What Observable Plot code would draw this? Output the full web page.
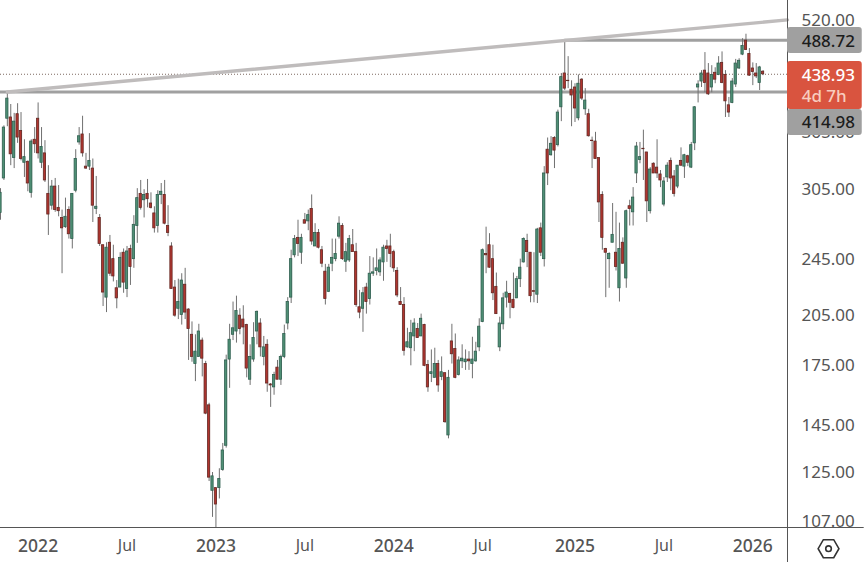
<!DOCTYPE html>
<html><head><meta charset="utf-8">
<script src="https://cdn.jsdelivr.net/npm/d3@7"></script>
<script src="https://cdn.jsdelivr.net/npm/@observablehq/plot@0.6"></script>
<style>html,body{margin:0;padding:0;background:#fff}svg{display:block}</style>
</head><body><div id="chart"></div>
<script>
const firstWeek = "2021-10-18";
const opens = [283.5,316,381.5,383,337,387,367,332,333,302,357,381.5,332,342,301,290,308,288,279,271,286,261,304,354,363,328,328,326,287,279,256,217,258,245,223.5,224,250,223,253,245,272,301,295,301,292,283,272,300,300,272,255,224,209.5,205.5,226,209,193,176,180,189.5,176,154.5,118,119,119,126,136,178.5,193,195,205,202.5,199,167.5,178.5,195,200,180,187,165,163.5,174,167.5,180,200,217,248,262,250,277,276,287,255,266,252,235.5,221,241.5,245,263,272,243,244,256,250.5,210.5,209.5,224,216,234,236,235,242.5,255,255,250.5,236,214,212,185.5,185,192,196.5,192,199,175.5,170.5,168.5,176,169,171,140.5,189,184.5,170,177.5,177,178.5,176,177.5,185.5,201,249,256,245,224.5,185.5,199.5,217,219.5,215.5,216.5,230,242.5,259.5,250,221.5,219,270,245,346,340,359,351,395.5,440,430,418,421,382,431.5,393,387,356,355,337,300,253,245,258,250,223.5,258,230.5,289.5,284,321,335,347,343,285,331,327,320,291,317,334,318,308,334,328,339,327,353,421,429,444,440,421,441,438,455,438,398,401,425,447,467,488,468,447,440,427,442.5];
const highs = [306,373,415,399,388,400,389,357,334,357,371,401,371,356,329,314,316,309,286,297,289,301,346,371,384.5,342,364,336,318,282,256,258,264,256,229,250,253,255,256,281,306,314,305,315,302,289,304,311,314,290,258,229,230,234,238,209.5,201,193,199.5,191,177.5,155.5,125,119,126.5,137,181,199.5,214,218,209.5,211.5,199.5,187,200.5,208,203,192,190,165.5,171.5,178,181,199,217,252,264,277,265,283,286,300,274,269,255,241,241,261,261,280,274,257.5,264,269,257.5,222,224,227,247,246,253,246,256,260,265,252,238.5,224,217,197,202,203,200,206,199.5,178,184,185,178,180,171,172.5,199.5,193.5,180,187,184,183,191.5,188.5,203,253,271,265.5,256,234.5,204,220,228.5,220,234.5,232,245,262,265,250,250,270,274.5,328,359,360.5,360.5,392,440,488.5,464,430,426,438,433,419.5,393,360,365.5,337,303,253.5,250,292,284,274.5,262,286,295,307,354,354,368,343,327,332,357,324,317,332,337,324,329,348,341,340,354,396.5,430,444,470,454,451,448,464,471,444,408,433,460,461,491,498,476,455,454,450,444];
const lows = [277,314,372,329,326,353,334,317,303,297,342,336,326,312,264,286,284,280,234,270,261,253,302,351,338,325,324,275,282,255,211,207,232,228,209.5,224,220,217,225.5,238,257.5,286,279,288,287,266,266,291,273,263,223,204,202.5,199,202.5,178,177,166.5,180,169,150,121.5,108.5,105,115,125.5,135,163,189.5,188,193,187,168.5,164.5,177,187,180,175,161,153.5,159.5,167.5,164.5,179,196,213,246,247,241,274,268,256,255,253,238.5,212,220.5,235.5,243,261,244,235,242.5,250.5,210.5,203,194.5,206,212,232,232.5,232,228.5,242.5,238.5,235,217,212,180.5,185,175,183,191,192,174.5,161,166,168.5,161,167,146,139,176,168,169.5,173.5,172.5,172.5,168,177,183,200.5,234,238,215,206,183,196,210,203,209.5,216.5,224,242,238.5,213.5,213.5,213,247,239,309,339,326,349,378,417,419.5,372,377,379,404,385.5,360,326,336,275,252,217,223.5,258,236,214,241,223.5,272,272,311,331,314,275,282.5,321,316,307,289,312,304,298,306,328,316,328,326,345,401,421,414,410.5,414,426,437,426,383,383,400,421,445.5,465.5,473,436,423.5,433,417,437];
const closes = [302,371,406.5,341,378,359.5,336,338,311,355,352,342,349,314,282,308,286,285,270,280,265,301,336,361,342,326,334,290,289,257,220.5,254,234,232,216.5,246,227.5,251,239,273,297,288,300,296,288,270,300,303,274,266,223,205,214,229,207,196.5,180,183,195,179,150.5,123,123.5,113,122.5,134,178,190,197,208,196.5,197.5,173.5,180,191,207.5,185.5,185.5,165.5,164.5,170,167.5,180,193.5,214,245,261,257,262,274,281.5,259,266,254,241.5,216,238.5,246,249,274,245,250.5,261,250.5,212,207,220,214,234,235,238,244,254,253,249,238,218.5,212,183.5,188.5,194,200,191,203,175,163.5,171.5,176,164.5,171.5,146.5,168.5,181.5,168.5,178,179,178.5,177.5,178.5,183,198,252,248,238.5,220,206,200,216.5,220.5,213.5,210,230,238.5,261,250.5,218,221,269,250,321,321,352.5,345,389,435,419.5,429.5,410.5,394,426,406.5,404,361,355.5,336,293,262,250,249,264.5,239,253,241.5,285,287,297.5,349.5,338,346.5,294,325,321,321,314,313,329,316,301,329,329,340,332,351,395.5,425,440,427,412,438,431.5,454,427,403,389,429,454,458,480,474,437,442,436,448.5,438.93];

const yearTicks = ["2022-01-03","2023-01-02","2024-01-01","2025-01-06","2026-01-05"].map(d => new Date(d));
const julyTicks = ["2022-07-04","2023-07-03","2024-07-01","2025-07-07"].map(d => new Date(d));
const priceTicks = [520,365,305,245,205,175,145,125,107];
const levelLow = 414.98, levelHigh = 488.72, lastPrice = 438.93, countdown = "4d 7h";
const trendPrices = [414.98, 521];

const day0 = new Date(firstWeek);
const dateAt = n => d3.utcDay.offset(day0, n);
const candles = opens.map((o,i)=>({date:dateAt(i*7),o,h:highs[i],l:lows[i],c:closes[i],up:closes[i]>=o}));
const yMax = 553.9, yMin = 105.1, axisEnd = dateAt(1611), boxEnd = dateAt(1764), labelX = dateAt(1695), labelStart = dateAt(1640), frameEnd = dateAt(1768);
const font = "'Noto Sans', sans-serif";
const upFill="#4f9075", upLine="#2f5f50", dnFill="#b0352f", dnLine="#642823", wick="#707070";
const labelRows = [
  {y1:392.9,y2:361.9,fill:"#a0a0a0"},
  {y1:508.6,y2:468.6,fill:"#a0a0a0"},
  {y1:456.9,y2:392.9,fill:"#d9543f"}
];
const labelTexts = [
  {y:486.7,t:levelHigh.toFixed(2),c:"#1c1c1c"},
  {y:437,t:lastPrice.toFixed(2),c:"#fff"},
  {y:409.2,t:countdown,c:"#f8cdbf"},
  {y:376.8,t:levelLow.toFixed(2),c:"#1c1c1c"}
];

const chart = Plot.plot({
  width:864,height:562,marginTop:0,marginLeft:0,marginRight:77,marginBottom:35,
  style:{fontFamily:font,background:"#fff",overflow:"visible"},
  x:{type:"utc",domain:[day0,axisEnd],range:[0,787]},
  y:{type:"log",domain:[yMax,yMin],range:[0,527]},
  marks:[
    Plot.axisY({anchor:"right",ticks:priceTicks,tickFormat:d=>d.toFixed(2),tickSize:0,tickPadding:14,fontSize:17,label:null,fill:"#555",textStroke:"none"}),
    Plot.axisX({ticks:yearTicks,tickFormat:d=>String(d.getUTCFullYear()),tickSize:0,tickPadding:12,fontSize:17.5,fontWeight:500,label:null,fill:"#555"}),
    Plot.axisX({ticks:julyTicks,tickFormat:()=>"Jul",tickSize:0,tickPadding:12,fontSize:16,label:null,fill:"#555"}),
    Plot.ruleY([lastPrice],{x1:day0,x2:axisEnd,stroke:"#7d6a62",strokeWidth:1,strokeDasharray:"1,2"}),
    Plot.ruleY([levelLow],{x1:day0,x2:axisEnd,stroke:"#a0a0a0",strokeWidth:3}),
    Plot.ruleY([levelHigh],{x1:candles[165].date,x2:axisEnd,stroke:"#a0a0a0",strokeWidth:3}),
    Plot.ruleX(candles,{x:"date",y1:"l",y2:"h",stroke:wick,strokeWidth:1}),
    Plot.rect(candles,{x1:d=>d3.utcHour.offset(d.date,-56),x2:d=>d3.utcHour.offset(d.date,56),y1:"o",y2:"c",fill:d=>d.up?upFill:dnFill,stroke:d=>d.up?upLine:dnLine,strokeWidth:0.8}),
    Plot.line([{d:candles[2].date,p:trendPrices[0]},{d:axisEnd,p:trendPrices[1]}],{x:"d",y:"p",stroke:"#bfbcbc",strokeWidth:3.4}),
    Plot.ruleX([axisEnd],{y1:yMax,y2:94,stroke:"#555",strokeWidth:1}),
    Plot.ruleY([yMin],{x1:day0,x2:frameEnd,stroke:"#555",strokeWidth:1}),
    Plot.rect(labelRows,{x1:axisEnd,x2:boxEnd,y1:"y1",y2:"y2",fill:"fill",rx:3}),
    Plot.text(labelTexts,{x:labelStart,y:"y",text:"t",fill:"c",fontSize:17,fontWeight:500,textAnchor:"start"}),
    Plot.dot([98.3],{x:labelX,y:d=>d,symbol:"hexagon",r:9,rotate:30,stroke:"#333",strokeWidth:1.6,fill:"none"}),
    Plot.dot([98.3],{x:labelX,y:d=>d,r:2.8,stroke:"#333",strokeWidth:1.6,fill:"none"})
  ]
});
document.getElementById("chart").append(chart);
</script></body></html>
